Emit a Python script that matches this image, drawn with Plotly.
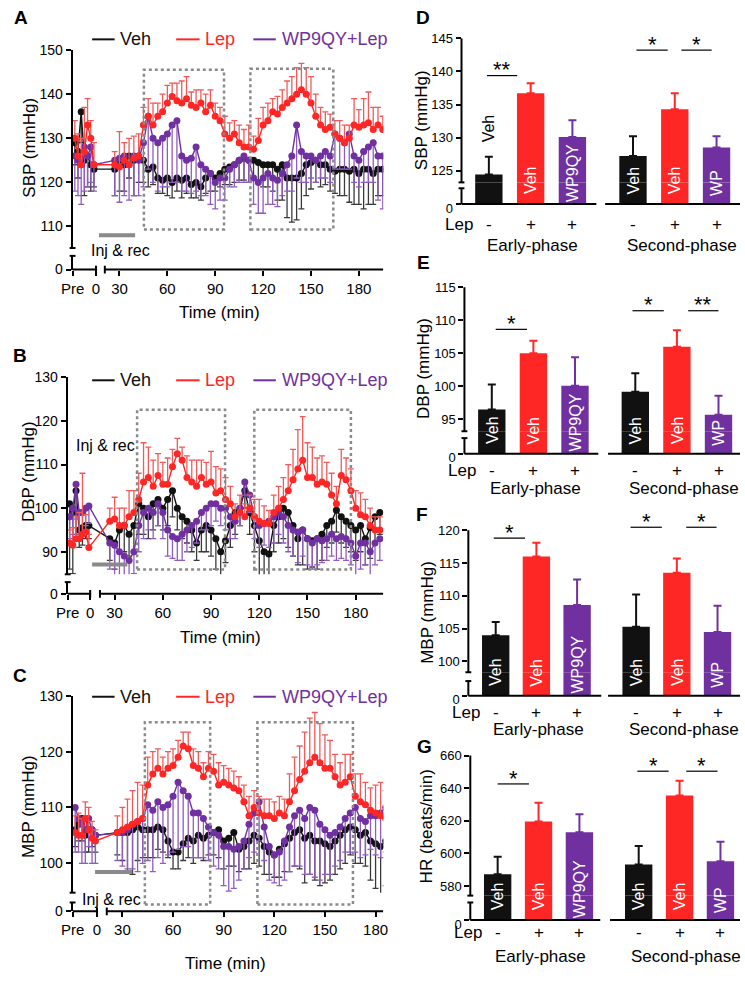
import plotly.graph_objects as go

# ---------------- values ----------------
pre_x = [2, 4, 6, 8, 10, 12, 14]            # baseline ("Pre") samples
time_ab = list(range(27, 196, 3))           # minutes, panels A and B
time_c = list(range(27, 187, 3))            # minutes, panel C

# A: SBP
sbp_veh_pre = [129, 127, 136, 125, 126, 124, 123]
sbp_veh_err_pre = [5, 6, 7, 8, 7, 6, 4]
sbp_veh = [123, 125, 124, 126, 125, 126, 125, 123, 123.5, 121,
           120.5, 121, 120, 121, 120.5, 121, 119.5, 120, 119, 121,
           122, 121, 122, 123, 123.5, 124, 125, 125.5, 125, 125,
           124.5, 124, 124, 124, 123, 124, 121, 121, 121, 122,
           124, 124.5, 125, 124, 124, 123, 122.5, 123, 123, 122.5,
           123, 122, 123, 123, 122, 123, 123]
sbp_veh_err = [6, 7, 6, 5, 8, 6, 5, 4, 4, 3.5,
               3, 4, 3.5, 3, 4, 3.5, 3, 3.5, 3, 3.5,
               4, 3, 3, 3.5, 4, 4, 4.5, 5, 5, 4,
               4, 5, 5, 6, 7, 8, 9, 10, 9.5, 8,
               7, 6, 5, 5, 4.5, 5, 5, 6, 6, 7,
               8, 7, 9, 8, 7, 6, 6]
sbp_lep_pre = [130, 126, 124, 127, 133, 130, 124]
sbp_lep_err_pre = [4, 5, 6, 10, 6, 4, 5]
sbp_lep = [124, 123.5, 125, 124, 125.5, 126, 133, 135, 133, 135,
           136, 138, 139.5, 138.5, 138, 139, 137.5, 137, 138, 136,
           137.5, 135, 134, 131, 130, 131, 129, 128, 128, 127.5,
           129.5, 133, 134, 136, 135.5, 137, 138, 139, 140, 141,
           140, 138, 135, 133, 132, 132.5, 131, 130, 129, 130,
           133, 132.5, 133, 133.5, 132, 133, 132]
sbp_lep_err = [3, 8, 4, 6, 5, 5, 4, 4, 5, 3,
               4, 4, 3, 4, 5, 5, 3, 4, 3, 4,
               3.5, 3, 3, 4, 3.5, 3, 4, 4, 5, 3,
               5, 4, 4, 3, 4, 4, 5, 5, 6, 6,
               6, 6, 5, 4, 4, 3, 3, 4, 4, 3,
               6, 4, 6, 7, 5, 4, 3]
sbp_wp_pre = [126, 125, 124, 128, 126, 128, 124]
sbp_wp_err_pre = [8, 8, 9, 10, 7, 8, 6]
sbp_wp = [125, 125.5, 126, 124, 126, 125, 129, 135, 130, 129,
          130, 131, 133, 134, 126, 125, 125.5, 128, 124, 123,
          122, 120, 121, 121, 123, 124, 125, 126, 125, 121,
          120, 121, 122, 121, 120.5, 122, 124, 126, 133, 127,
          126, 126, 125, 126, 127, 126, 131, 130, 129, 131,
          126, 125, 127, 128, 129, 126, 126]
sbp_wp_err = [8, 10, 9, 8, 9, 8, 10, 12, 10, 11,
              11, 12, 13, 14, 8, 7, 8, 10, 7, 6,
              7, 6, 5, 5, 4, 5, 5, 6, 5, 6,
              7, 8, 7, 6, 6, 5, 6, 8, 12, 7,
              6, 5, 5, 5, 6, 6, 8, 7, 6, 8,
              6, 6, 7, 8, 9, 10, 12]

# B: DBP
dbp_veh_pre = [101, 99, 104, 95, 95.5, 96, 96]
dbp_veh_err_pre = [15, 14, 10, 4, 4, 3, 3]
dbp_veh = [93, 92, 95, 96, 94, 96, 101, 100, 98, 101,
           102, 100, 102, 104, 100, 98, 97, 95, 92, 95,
           96, 95, 93, 90, 92.5, 96, 99, 100, 104, 99,
           96, 92.5, 90, 89.5, 96, 98, 100, 99, 96, 93,
           95, 93, 92.5, 93, 94, 96, 97, 99.5, 98, 97,
           96, 95, 96, 93, 95.5, 98, 99]
dbp_veh_err = [5, 6, 5, 6, 5, 6, 7, 6, 5, 6,
               6, 5, 6, 6, 5, 5, 5, 5, 4, 5,
               6, 6, 7, 6, 5, 5, 5, 4, 4, 5,
               6, 8, 8, 7, 6, 6, 7, 8, 7, 6,
               8, 7, 6, 7, 6, 5, 5, 5, 6, 6,
               6, 7, 6, 6, 7, 6, 5]
dbp_lep_pre = [92, 91.5, 93, 93, 94, 94.5, 91]
dbp_lep_err_pre = [3, 4, 5, 6, 14, 4, 3]
dbp_lep = [97, 97.5, 96, 96, 98, 99, 102, 106, 107, 105,
           107.5, 105.5, 105.5, 109.5, 112.5, 111, 107, 106, 105, 107,
           105.5, 106, 103.5, 104, 102, 101, 98, 99, 98, 100,
           98, 97, 96.5, 96.5, 99, 100, 102, 104, 106.5, 109,
           111, 107, 107, 105.5, 106, 105.5, 103, 101, 107.5, 106.5,
           104, 100, 98.5, 98, 96, 95, 95]
dbp_lep_err = [3, 5, 4, 4, 6, 5, 6, 9, 7, 6,
               5, 5, 6, 4, 3.5, 3, 5, 5, 6, 4,
               5, 7, 6, 5, 5, 4, 3, 4, 3, 3,
               4, 5, 4, 3, 4, 5, 5, 6, 7, 9,
               10, 8, 7, 6, 6, 5, 5, 4, 6, 5,
               5, 4, 5, 4, 4, 3, 3]
dbp_wp_pre = [98, 100, 105.5, 99, 99, 100, 100.5]
dbp_wp_err_pre = [5, 6, 8, 5, 5, 4, 4]
dbp_wp = [92, 91.5, 90, 89, 88, 90, 96, 99, 100, 99,
          101, 99, 95, 93.5, 93, 94, 95, 96, 97, 99,
          100, 101, 101, 100, 100, 98, 97, 100, 106, 103,
          98, 96, 96.5, 97, 98, 99, 98, 96, 95, 94.5,
          95, 93, 92, 93, 92.5, 93, 94, 93, 93.5, 93,
          92, 89, 92, 92, 90, 92, 93]
dbp_wp_err = [6, 7, 7, 6, 7, 5, 6, 6, 5, 6,
              5, 6, 6, 5, 5, 6, 5, 5, 5, 4,
              5, 5, 4, 4, 5, 5, 4, 4, 3, 4,
              5, 5, 5, 6, 6, 5, 6, 6, 6, 7,
              6, 6, 6, 6, 5, 5, 5, 5, 5, 5,
              5, 14, 6, 5, 6, 5, 5]

# C: MBP
mbp_veh_pre = [106, 107, 108, 105, 106, 106, 105]
mbp_veh_err_pre = [3, 3, 4, 3, 4, 3, 3]
mbp_veh = [105.5, 105.5, 105.5, 106, 106.5, 106, 106, 106, 106.5, 106,
           104, 102, 102, 103.5, 104.5, 104, 105, 104.5, 105, 105.5,
           106, 104, 104.5, 105.5, 102.5, 103, 104, 105, 104.5, 103,
           102, 101.5, 102.5, 103.5, 104.5, 105.5, 106, 104.5, 105, 104,
           104, 103.5, 103, 104, 105, 106, 106.5, 106, 105, 105.5,
           104, 103.5, 103, 104]
mbp_veh_err = [4, 5, 7, 8, 6, 5, 5, 5, 4, 4,
               3, 3, 3, 3, 3.5, 4, 4, 4, 3.5, 4,
               5, 5, 5, 6, 4, 4, 5, 5, 5, 5,
               4, 4, 5, 5, 6, 6, 7, 8, 7, 7,
               8, 7, 6, 6, 6, 6, 5, 6, 5, 6,
               7, 8, 9, 8]
mbp_lep_pre = [105.5, 105, 105, 108, 106, 104.5, 104]
mbp_lep_err_pre = [3, 4, 3, 3, 4, 3, 2]
mbp_lep = [105.5, 106, 106.5, 107, 107.5, 108, 114, 116, 117, 116,
           117, 117.5, 119, 121, 120.5, 117.5, 117, 115.5, 117, 116.5,
           114, 114.5, 114, 113.5, 113, 111, 108.5, 110, 109, 108.5,
           108.5, 108, 109, 108.5, 111, 113, 115, 116.5, 118, 119,
           118, 117, 117, 115.5, 114, 114.5, 115.5, 112, 111, 110.5,
           109.5, 109, 108.5, 108]
mbp_lep_err = [3, 4, 5, 6, 7, 6, 5, 4, 3.5, 3,
               3, 3, 3, 2.5, 3, 3, 3, 2.5, 3, 3,
               4, 3, 3, 3, 2.5, 3, 3.5, 3, 3, 3,
               3, 3, 3, 3, 5, 6, 6, 7, 8, 8,
               7, 6, 5, 4, 4, 5, 4, 4, 5, 4,
               4, 5, 6, 5]
mbp_wp_pre = [110, 108, 107, 106, 108, 106, 105]
mbp_wp_err_pre = [8, 6, 7, 6, 5, 6, 5]
mbp_wp = [105.5, 105.5, 106, 107, 107.5, 108, 110.5, 109.5, 111, 110,
          110.5, 112, 114.5, 113, 112, 109, 109, 108, 106.5, 105.5,
          105, 103, 103, 102.5, 103, 104, 107, 109, 111, 106.5,
          103, 101.5, 102, 104, 106.5, 108.5, 109.5, 108, 110, 109.5,
          107, 106, 105, 105.5, 106.5, 108, 109, 110, 108, 107.5,
          108.5, 108.5, 109, 110]
mbp_wp_err = [5, 6, 7, 8, 9, 8, 10, 11, 10, 10,
              9, 10, 12, 10, 9, 8, 8, 7, 6, 6,
              6, 7, 8, 7, 6, 5, 6, 7, 7, 6,
              6, 5, 6, 7, 8, 9, 10, 10, 12, 12,
              10, 8, 7, 6, 6, 6, 7, 8, 7, 6,
              6, 7, 8, 8]

sbp_ticks = [110, 120, 130, 140, 150]
dbp_ticks = [90, 100, 110, 120, 130]
mbp_ticks = [100, 110, 120, 130]
time_ticks = [30, 60, 90, 120, 150, 180]
legend_names = ['Veh', 'Lep', 'WP9QY+Lep']

# D-G: phase means
bar_groups = ['Early-phase', 'Second-phase']
bar_labels = ['Veh', 'Veh', 'WP9QY', 'Veh', 'Veh', 'WP']
lep_marks = ['-', '+', '+', '-', '+', '+']
sbp_bar = [124.4, 136.7, 130.1, 127.2, 134.3, 128.5]
sbp_bar_err = [2.7, 1.5, 2.5, 3.0, 2.4, 1.7]
dbp_bar = [96.5, 105.0, 100.1, 99.2, 106.0, 95.7]
dbp_bar_err = [3.8, 1.9, 4.3, 2.8, 2.5, 2.9]
mbp_bar = [104.0, 116.0, 108.6, 105.3, 113.5, 104.5]
mbp_bar_err = [2.0, 2.1, 3.9, 4.9, 2.2, 4.0]
hr_bar = [587.2, 619.6, 613.0, 593.2, 635.5, 595.2]
hr_bar_err = [10.8, 11.4, 11.0, 11.4, 9.1, 12.0]
bar_x = [0, 1, 2, 3.45, 4.45, 5.45]

# ---------------- styling / layout helpers ----------------
W, H = 745, 986
RIGHT = W
FONT = 'Liberation Sans, Arial, Helvetica, sans-serif'
BLACK, RED, PURPLE, GRAY = '#111111', '#ff2626', '#7030a0', '#8a8a8a'
ERR_COLOR = {BLACK: '#3a3a3a', RED: '#f25a5a', PURPLE: '#8f5cc0'}


def X(px):
    return px / W


def Y(py):
    return 1 - py / H


def lk(ref):
    return ref[0] + 'axis' + ref[1:]


fig = go.Figure()
layout = {}
shapes = []
annotations = []


def seg(x0, y0, x1, y1, color='black', width=2, dash=None, xref='paper'):
    ln = dict(color=color, width=width)
    if dash:
        ln['dash'] = dash
    shapes.append(dict(type='line', xref=xref, yref='paper',
                       x0=x0 if xref != 'paper' else X(x0), x1=x1 if xref != 'paper' else X(x1),
                       y0=Y(y0), y1=Y(y1), line=ln, layer='above'))


def txt(x, y, s, size, color='black', xanchor='center', yanchor='middle', angle=0, bold=False):
    annotations.append(dict(xref='paper', yref='paper', x=X(x), y=Y(y),
                            text=('<b>%s</b>' % s) if bold else s, showarrow=False,
                            xanchor=xanchor, yanchor=yanchor, textangle=angle,
                            font=dict(family=FONT, size=size, color=color)))


axis_common = dict(showgrid=False, zeroline=False, linecolor='black', tickcolor='black',
                   tickwidth=2, ticklen=5, ticks='outside')

# ---------------- time-course panels A-C ----------------
ts_specs = [
    dict(letter='A', letter_xy=(9, 10), xa='x', ya='y', yl='y2', ax=62, top=43, topv=150, ppu=4.5,
         mb=245, lt=253, base=267, t30=110, ppm=1.633, zero=86, seg2=95, right=380,
         yticks=sbp_ticks, ytitle='SBP (mmHg)', ytitle_xy=(17, 143), xtitle_xy=(212, 311),
         legend_y=32, boxes=[(45.3, 95.5, 63, 226), (112, 164, 62, 226)],
         inj=(89, 126, 232, 111, 248), times=time_ab,
         series=[(sbp_veh_pre, sbp_veh, sbp_veh_err_pre, sbp_veh_err, BLACK, False),
                 (sbp_wp_pre, sbp_wp, sbp_wp_err_pre, sbp_wp_err, PURPLE, False),
                 (sbp_lep_pre, sbp_lep, sbp_lep_err_pre, sbp_lep_err, RED, True)]),
    dict(letter='B', letter_xy=(8, 355), xa='x2', ya='y3', yl='y4', ax=57, top=377, topv=130, ppu=4.45,
         mb=578, lt=586, base=598, t30=105, ppm=1.645, zero=80, seg2=90, right=380,
         yticks=dbp_ticks, ytitle='DBP (mmHg)', ytitle_xy=(17, 473), xtitle_xy=(213, 643),
         legend_y=380, boxes=[(44, 98.7, 410, 573), (116.9, 177, 410, 573)],
         inj=(82, 118, 568, 96, 447), times=time_ab,
         series=[(dbp_veh_pre, dbp_veh, dbp_veh_err_pre, dbp_veh_err, BLACK, False),
                 (dbp_wp_pre, dbp_wp, dbp_wp_err_pre, dbp_wp_err, PURPLE, False),
                 (dbp_lep_pre, dbp_lep, dbp_lep_err_pre, dbp_lep_err, RED, True)]),
    dict(letter='C', letter_xy=(8, 681), xa='x3', ya='y5', yl='y6', ax=62, top=702, topv=130, ppu=5.7,
         mb=903, lt=913, base=922, t30=113, ppm=1.727, zero=87, seg2=97, right=380,
         yticks=mbp_ticks, ytitle='MBP (mmHg)', ytitle_xy=(17, 815), xtitle_xy=(218, 975),
         legend_y=703, boxes=[(43.3, 82, 729, 915), (110, 166.6, 729, 915)],
         inj=(85, 123, 882, 102, 910), times=time_c,
         series=[(mbp_veh_pre, mbp_veh, mbp_veh_err_pre, mbp_veh_err, BLACK, False),
                 (mbp_wp_pre, mbp_wp, mbp_wp_err_pre, mbp_wp_err, PURPLE, False),
                 (mbp_lep_pre, mbp_lep, mbp_lep_err_pre, mbp_lep_err, RED, True)]),
]

for p in ts_specs:
    def t_of(px, p=p):
        return 30 + (px - p['t30']) / p['ppm']
    x0, x1 = t_of(p['ax']), t_of(p['right'])
    tz, ts2 = t_of(p['zero']), t_of(p['seg2'])
    layout[lk(p['xa'])] = dict(axis_common, domain=[X(p['ax']), X(p['right'])], range=[x0, x1],
                               anchor=p['yl'], showline=False, tickmode='array',
                               tickvals=[x0, tz] + time_ticks,
                               ticktext=['Pre', '0'] + [str(t) for t in time_ticks],
                               tickfont=dict(family=FONT, size=15, color='black'))
    layout[lk(p['ya'])] = dict(axis_common, domain=[Y(p['mb']), Y(p['top'])],
                               range=[p['topv'] - (p['mb'] - p['top']) / p['ppu'], p['topv']],
                               anchor=p['xa'], showline=True, linewidth=2, tickmode='array',
                               tickvals=p['yticks'], tickfont=dict(family=FONT, size=14, color='black'))
    layout[lk(p['yl'])] = dict(axis_common, domain=[Y(p['base']), Y(p['lt'])], range=[0, 1],
                               anchor=p['xa'], showline=True, linewidth=2, tickmode='array',
                               tickvals=[0], tickfont=dict(family=FONT, size=14, color='black'))
    # empty trace so the lower (broken-axis) subplot exists
    fig.add_trace(go.Scatter(x=[None], y=[None], xaxis=p['xa'], yaxis=p['yl'], mode='markers',
                             showlegend=False, hoverinfo='skip'))
    # broken x axis
    seg(x0, p['base'], tz, p['base'], xref=p['xa'])
    seg(ts2, p['base'], x1, p['base'], xref=p['xa'])
    seg(tz, p['base'] - 4, tz, p['base'] + 4, xref=p['xa'])
    seg(ts2, p['base'] - 4, ts2, p['base'] + 4, xref=p['xa'])
    # broken y axis end caps
    seg(p['ax'] - 3, p['mb'], p['ax'] + 3, p['mb'])
    seg(p['ax'] - 3, p['lt'], p['ax'] + 3, p['lt'])

    for pre, post, pre_e, post_e, color, up in p['series']:
        xs = pre_x + p['times']
        ys = pre + post
        es = pre_e + post_e
        zeros = [0] * len(es)
        err = dict(type='data', symmetric=False, color=ERR_COLOR[color], thickness=1.3, width=3,
                   array=es if up else zeros, arrayminus=zeros if up else es)
        fig.add_trace(go.Scatter(x=xs, y=ys, mode='lines+markers', xaxis=p['xa'], yaxis=p['ya'],
                                 line=dict(color=color, width=1.4), marker=dict(color=color, size=7),
                                 error_y=err, showlegend=False, hoverinfo='skip'))

    # dotted phase boxes
    for bx0, bx1, by0, by1 in p['boxes']:
        shapes.append(dict(type='rect', xref=p['xa'], yref='paper', x0=bx0, x1=bx1, y0=Y(by1), y1=Y(by0),
                           line=dict(color=GRAY, width=2.5, dash='dot'), layer='above'))
    # injection bar
    ix0, ix1, iy, itx, ity = p['inj']
    seg(ix0, iy, ix1, iy, color=GRAY, width=4)
    txt(itx, ity, 'Inj &amp; rec', 16)
    # legend
    ly = p['legend_y']
    for (lx0, lx1, tx), name, color in zip([(82, 105, 108), (168, 192, 195), (247, 270, 274)],
                                           legend_names, [BLACK, RED, PURPLE]):
        seg(lx0, ly, lx1, ly, color=color, width=2)
        txt(tx, ly, name, 18, color=color, xanchor='left')
    txt(p['ytitle_xy'][0], p['ytitle_xy'][1], p['ytitle'], 17, angle=-90)
    txt(p['xtitle_xy'][0], p['xtitle_xy'][1], 'Time (min)', 17)
    txt(p['letter_xy'][0], p['letter_xy'][1], p['letter'], 19, bold=True)

# ---------------- bar panels D-G ----------------
bar_specs = [
    dict(letter='D', letter_xy=(421, 10), xa='x4', ya='y7', yl='y8', ax=460, top=31, topv=145, ppu=6.75,
         ub=178, lt=184, base=200, c0=488, c5=721, left_end=598, right_start=607,
         yticks=[125, 130, 135, 140, 145], ytitle='SBP (mmHg)', ytitle_xy=(419, 114),
         vals=sbp_bar, errs=sbp_bar_err, lep_y=221, group_y=242, above={0: 123},
         sig=[(486, 517, 69, '**'), (639, 671, 43, '*'), (685, 716, 43, '*')]),
    dict(letter='E', letter_xy=(421, 260), xa='x5', ya='y9', yl='y10', ax=463, top=285, topv=115, ppu=6.75,
         ub=432, lt=439, base=455, c0=491, c5=723, left_end=600, right_start=610,
         yticks=[95, 100, 105, 110, 115], ytitle='DBP (mmHg)', ytitle_xy=(421, 368),
         vals=dbp_bar, errs=dbp_bar_err, lep_y=472, group_y=490, above={},
         sig=[(495, 527, 328, '*'), (635, 667, 309, '*'), (692, 723, 309, '**')]),
    dict(letter='F', letter_xy=(420, 517), xa='x6', ya='y11', yl='y12', ax=467, top=533, topv=120, ppu=6.7,
         ub=678, lt=687, base=702, c0=495, c5=722, left_end=603, right_start=610,
         yticks=[100, 105, 110, 115, 120], ytitle='MBP (mmHg)', ytitle_xy=(425, 617),
         vals=mbp_bar, errs=mbp_bar_err, lep_y=719, group_y=736, above={},
         sig=[(493, 525, 541, '*'), (633, 665, 530, '*'), (690, 721, 530, '*')]),
    dict(letter='G', letter_xy=(422, 754), xa='x7', ya='y13', yl='y14', ax=469, top=763, topv=660, ppu=1.665,
         ub=906, lt=913, base=931, c0=497, c5=725, left_end=602, right_start=612,
         yticks=[580, 600, 620, 640, 660], ytitle='HR (beats/min)', ytitle_xy=(424, 835),
         vals=hr_bar, errs=hr_bar_err, lep_y=944, group_y=968, above={},
         sig=[(497, 529, 792, '*'), (640, 672, 779, '*'), (690, 722, 779, '*')]),
]

bar_colors = [BLACK, RED, PURPLE]
for p in bar_specs:
    s = (p['c5'] - p['c0']) / bar_x[-1]
    bw = 28 / s
    layout[lk(p['xa'])] = dict(domain=[X(p['ax']), 1], range=[(p['ax'] - p['c0']) / s, (RIGHT - p['c0']) / s],
                               anchor=p['yl'], showline=False, showgrid=False, zeroline=False,
                               showticklabels=False, ticks='')
    layout[lk(p['ya'])] = dict(axis_common, domain=[Y(p['ub']), Y(p['top'])],
                               range=[p['topv'] - (p['ub'] - p['top']) / p['ppu'], p['topv']],
                               anchor=p['xa'], showline=False, tickmode='array', tickvals=p['yticks'],
                               tickfont=dict(family=FONT, size=13, color='black'))
    layout[lk(p['yl'])] = dict(axis_common, domain=[Y(p['base']), Y(p['ub'])], range=[0, 1],
                               anchor=p['xa'], showline=False, tickmode='array', tickvals=[0],
                               ticklabelshift=4, tickfont=dict(family=FONT, size=13, color='black'))
    for g, color in enumerate(bar_colors):
        xs = [bar_x[g], bar_x[g + 3]]
        ys = [p['vals'][g], p['vals'][g + 3]]
        es = [p['errs'][g], p['errs'][g + 3]]
        fig.add_trace(go.Bar(x=xs, y=ys, width=bw, marker=dict(color=color, line=dict(width=0)),
                             xaxis=p['xa'], yaxis=p['ya'], showlegend=False, hoverinfo='skip',
                             error_y=dict(type='data', symmetric=False, array=es, arrayminus=[0, 0],
                                          color=color, thickness=2, width=4)))
        fig.add_trace(go.Bar(x=xs, y=ys, width=bw, marker=dict(color=color, line=dict(width=0)),
                             xaxis=p['xa'], yaxis=p['yl'], showlegend=False, hoverinfo='skip'))
    # axis lines with breaks
    ax = p['ax']
    seg(ax, p['top'], ax, p['ub'])
    seg(ax, p['lt'], ax, p['base'])
    seg(ax - 3, p['ub'], ax + 3, p['ub'])
    seg(ax - 3, p['lt'], ax + 3, p['lt'])
    seg(ax, p['base'], p['left_end'], p['base'])
    seg(p['right_start'], p['base'], RIGHT, p['base'])
    # labels
    centers = [p['c0'] + bx * s for bx in bar_x]
    for i, (cx, lab) in enumerate(zip(centers, bar_labels)):
        off = {'Veh': 24, 'WP9QY': 32, 'WP': 21}[lab]
        if i in p['above']:
            txt(cx, p['above'][i], lab, 16, color='black', angle=-90)
        else:
            txt(cx, p['base'] - off, lab, 16, color='white', angle=-90)
        txt(cx, p['lep_y'], lep_marks[i], 17)
    txt(ax + 14, p['lep_y'], 'Lep', 17, xanchor='right')
    txt(centers[1] + 2, p['group_y'], bar_groups[0], 17)
    txt(centers[4] + 7, p['group_y'], bar_groups[1], 17)
    for sx0, sx1, sy, star in p['sig']:
        seg(sx0, sy, sx1, sy, width=1.2)
        txt((sx0 + sx1) / 2, sy - 6, star, 22)
    txt(p['ytitle_xy'][0], p['ytitle_xy'][1], p['ytitle'], 17, angle=-90)
    txt(p['letter_xy'][0], p['letter_xy'][1], p['letter'], 19, bold=True)

fig.update_layout(**layout)
fig.update_layout(autosize=True, margin=dict(l=0, r=0, t=0, b=0, pad=0),
                  paper_bgcolor='white', plot_bgcolor='white', barmode='overlay',
                  font=dict(family=FONT, color='black'), showlegend=False,
                  shapes=shapes, annotations=annotations)

# page div pinned to the window's top-left corner, exactly window-sized
fig.write_html("out.html", config={'displayModeBar': False, 'responsive': False},
               default_width='%dpx' % W,
               default_height='%dpx; position:absolute; left:0; top:0' % H)
